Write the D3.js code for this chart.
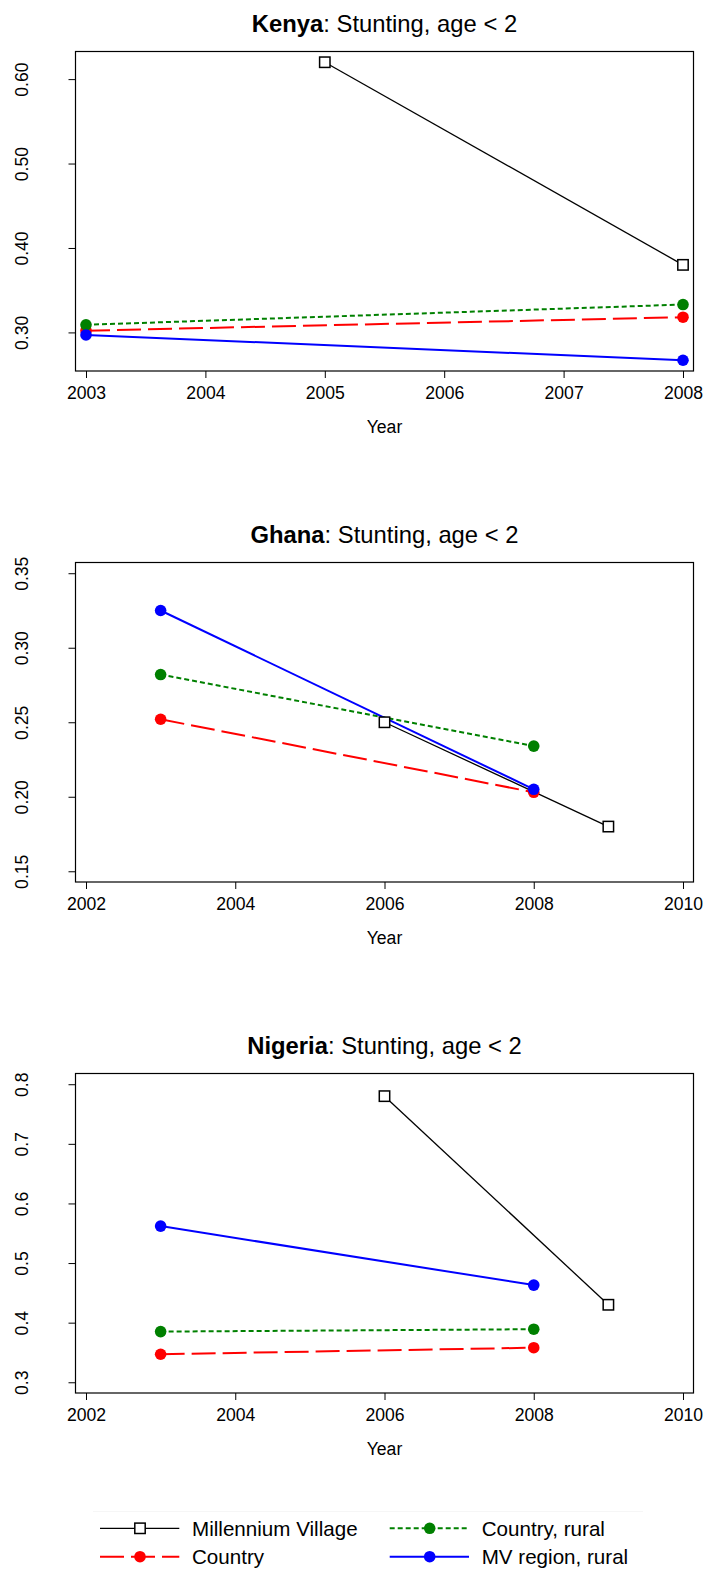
<!DOCTYPE html>
<html>
<head>
<meta charset="utf-8">
<script src="https://cdn.jsdelivr.net/npm/d3@7"></script>
<style>
  body { margin: 0; background: #fff; }
  text { font-family: "Liberation Sans", Arial, sans-serif; fill: #000; }
</style>
</head>
<body>
<div id="chart"></div>
<script>
// series, in legend order
var seriesNames = ["Millennium Village", "Country", "Country, rural", "MV region, rural"];

// Kenya
var kenyaMvYears = [2005, 2008];
var kenyaMv = [0.620, 0.380];
var kenyaSurveyYears = [2003, 2008];
var kenyaCountry = [0.302, 0.318];
var kenyaRural = [0.309, 0.333];
var kenyaMvRegion = [0.297, 0.267];
var kenyaXTicks = [2003, 2004, 2005, 2006, 2007, 2008];
var kenyaYTicks = [0.30, 0.40, 0.50, 0.60];

// Ghana
var ghanaMvYears = [2006, 2009];
var ghanaMv = [0.250, 0.180];
var ghanaSurveyYears = [2003, 2008];
var ghanaCountry = [0.252, 0.203];
var ghanaRural = [0.282, 0.234];
var ghanaMvRegion = [0.325, 0.205];
var ghanaXTicks = [2002, 2004, 2006, 2008, 2010];
var ghanaYTicks = [0.15, 0.20, 0.25, 0.30, 0.35];

// Nigeria
var nigeriaMvYears = [2006, 2009];
var nigeriaMv = [0.780, 0.430];
var nigeriaSurveyYears = [2003, 2008];
var nigeriaCountry = [0.347, 0.358];
var nigeriaRural = [0.385, 0.389];
var nigeriaMvRegion = [0.562, 0.463];
var nigeriaXTicks = [2002, 2004, 2006, 2008, 2010];
var nigeriaYTicks = [0.3, 0.4, 0.5, 0.6, 0.7, 0.8];

// styles per series (same order as seriesNames)
var seriesColors = ["#000000", "#ff0000", "#008000", "#0000ff"];
var seriesDash = [null, "24,7", "5,3", null];
var seriesWidth = [1.3, 2, 2, 2];

let zip = (xs, ys) => xs.map((d, i) => [d, ys[i]]);

let panels = [
  { name: "Kenya", xLim: [2003, 2008], yLim: [0.267, 0.62], xTicks: kenyaXTicks, yTicks: kenyaYTicks, yFmt: ".2f",
    series: [zip(kenyaMvYears, kenyaMv), zip(kenyaSurveyYears, kenyaCountry),
             zip(kenyaSurveyYears, kenyaRural), zip(kenyaSurveyYears, kenyaMvRegion)] },
  { name: "Ghana", xLim: [2002, 2010], yLim: [0.15, 0.35], xTicks: ghanaXTicks, yTicks: ghanaYTicks, yFmt: ".2f",
    series: [zip(ghanaMvYears, ghanaMv), zip(ghanaSurveyYears, ghanaCountry),
             zip(ghanaSurveyYears, ghanaRural), zip(ghanaSurveyYears, ghanaMvRegion)] },
  { name: "Nigeria", xLim: [2002, 2010], yLim: [0.3, 0.8], xTicks: nigeriaXTicks, yTicks: nigeriaYTicks, yFmt: ".1f",
    series: [zip(nigeriaMvYears, nigeriaMv), zip(nigeriaSurveyYears, nigeriaCountry),
             zip(nigeriaSurveyYears, nigeriaRural), zip(nigeriaSurveyYears, nigeriaMvRegion)] }
];

let svg = d3.select('#chart').append('svg')
  .attr('width', 706)
  .attr('height', 1570);

let padLim = (lim, f) => {
  let r = lim[1] - lim[0];
  return [lim[0] - r * f, lim[1] + r * f];
};

let boxL = 75.5, boxR = 693.5, boxT = 51.5, boxB = 371;

let drawMarker = (sel, i, cx, cy) => {
  if (i === 0) {
    sel.append('rect')
      .attr('x', cx - 5.2).attr('y', cy - 5.2)
      .attr('width', 10.4).attr('height', 10.4)
      .attr('fill', '#fff').attr('stroke', '#000').attr('stroke-width', 1.5);
  } else {
    sel.append('circle')
      .attr('cx', cx).attr('cy', cy).attr('r', 5.8)
      .attr('fill', seriesColors[i]);
  }
};

let plotPanel = (p, top) => {
  let x = d3.scaleLinear().domain(padLim(p.xLim, 0.0176)).range([boxL, boxR]);
  let y = d3.scaleLinear().domain(padLim(p.yLim, 0.036)).range([top + boxB, top + boxT]);
  let g = svg.append('g').attr('class', 'panel');

  // title
  let t = g.append('text')
    .attr('x', (boxL + boxR) / 2)
    .attr('y', top + 31.5)
    .attr('text-anchor', 'middle')
    .style('font-size', '23.8px');
  t.append('tspan').style('font-weight', 'bold').text(p.name);
  t.append('tspan').text(': Stunting, age < 2');

  // axes
  let xAxis = d3.axisBottom(x).tickValues(p.xTicks).tickFormat(d3.format('d')).tickSizeOuter(0).tickSize(7);
  let xg = g.append('g').attr('transform', `translate(0, ${top + boxB})`).call(xAxis);
  xg.select('.domain').remove();
  xg.selectAll('.tick line').attr('stroke', '#000');
  xg.selectAll('.tick text')
    .attr('y', 27.5).attr('dy', 0)
    .style('font-size', '17.6px')
    .style('font-family', '"Liberation Sans", Arial, sans-serif');

  let yAxis = d3.axisLeft(y).tickValues(p.yTicks).tickFormat(d3.format(p.yFmt)).tickSizeOuter(0).tickSize(7);
  let yg = g.append('g').attr('transform', `translate(${boxL}, 0)`).call(yAxis);
  yg.select('.domain').remove();
  yg.selectAll('.tick line').attr('stroke', '#000');
  yg.selectAll('.tick text')
    .attr('transform', 'rotate(-90)')
    .attr('x', 0).attr('y', -48).attr('dy', 0)
    .attr('text-anchor', 'middle')
    .style('font-size', '17.6px')
    .style('font-family', '"Liberation Sans", Arial, sans-serif');

  // x label
  g.append('text')
    .attr('x', (boxL + boxR) / 2)
    .attr('y', top + boxB + 61.5)
    .attr('text-anchor', 'middle')
    .style('font-size', '17.6px')
    .text('Year');

  // lines, then points (MV squares last)
  let line = d3.line().x(d => x(d[0])).y(d => y(d[1]));
  let order = [1, 2, 3, 0];
  order.forEach((i) => {
    g.append('path')
      .attr('d', line(p.series[i]))
      .attr('fill', 'none')
      .attr('stroke', seriesColors[i])
      .attr('stroke-width', seriesWidth[i])
      .attr('stroke-dasharray', seriesDash[i]);
  });
  order.forEach((i) => {
    p.series[i].forEach((d) => drawMarker(g, i, x(d[0]), y(d[1])));
  });

  // box
  g.append('rect')
    .attr('x', boxL).attr('y', top + boxT)
    .attr('width', boxR - boxL).attr('height', boxB - boxT)
    .attr('fill', 'none').attr('stroke', '#000').attr('stroke-width', 1.2);
};

panels.forEach((p, i) => plotPanel(p, i * 511));

// legend
let legend = svg.append('g').attr('class', 'legend');
legend.append('line')
  .attr('x1', 93).attr('x2', 643).attr('y1', 1511.5).attr('y2', 1511.5)
  .attr('stroke', '#f6f6f6');
let legendCols = [100, 389.7];
let legendRows = [1528.3, 1556.7];
seriesNames.forEach((name, i) => {
  let lx = legendCols[Math.floor(i / 2)];
  let ly = legendRows[i % 2];
  legend.append('line')
    .attr('x1', lx).attr('x2', lx + 79.3)
    .attr('y1', ly).attr('y2', ly)
    .attr('stroke', seriesColors[i])
    .attr('stroke-width', seriesWidth[i])
    .attr('stroke-dasharray', seriesDash[i]);
  drawMarker(legend, i, lx + 40, ly);
  legend.append('text')
    .attr('x', lx + 92)
    .attr('y', ly)
    .attr('dy', '0.36em')
    .style('font-size', '20.6px')
    .text(name);
});
</script>
</body>
</html>
